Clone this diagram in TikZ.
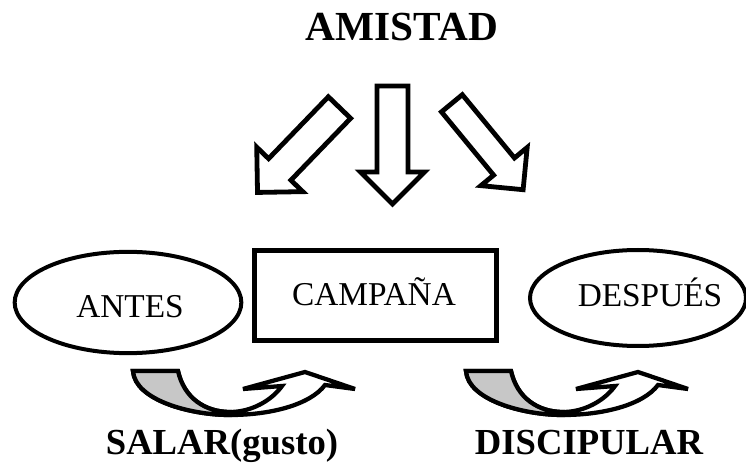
\documentclass[tikz,border=0pt]{standalone}
\usepackage{fontspec}
\setmainfont{Liberation Serif}
\usetikzlibrary{shapes.geometric}

\tikzset{
  oval/.style={draw, ellipse, line width=3pt, inner sep=0pt},
  box/.style={draw, rectangle, line width=3.8pt, inner sep=0pt},
  nodetext/.style={font=\fontsize{25}{29}\selectfont, anchor=base, inner sep=0pt},
  bigtext/.style={font=\bfseries\fontsize{27.5}{32}\selectfont, anchor=base, inner sep=0pt},
  blockarrow/.style={draw, fill=white, line width=3.6pt},
  bendarrow/.style={draw, fill=white, line width=3.2pt},
  bendback/.style={draw, fill=black!22, line width=3.2pt},
}

% hollow arrow: centre x, centre y, angle, half length, half shaft, half head, head length
\newcommand{\hollowarrow}[7]{%
  \begin{scope}[shift={(#1,#2)}, rotate=#3]
    \draw[blockarrow] (-#4,-#5) -- ({#4-#7},-#5) -- ({#4-#7},-#6) -- (#4,0)
      -- ({#4-#7},#6) -- ({#4-#7},#5) -- (-#4,#5) -- cycle;
  \end{scope}}

% curved up arrow, shifted along x
\newcommand{\bentarrow}[1]{%
  \begin{scope}[shift={(#1,0)}]
    \draw[bendarrow] (133,371) -- (178,371) .. controls (184,398) and (205,412) .. (230,412)
      .. controls (252,412) and (272,400) .. (282,386) -- (243,389) -- (305,372) -- (355,389)
      -- (325,385) .. controls (310,405) and (270,415) .. (230,415)
      .. controls (190,415) and (135,400) .. (133,371) -- cycle;
    \filldraw[bendback] (133,371) -- (178,371) .. controls (184,398) and (205,412) .. (230,412)
      -- (230,415) .. controls (190,415) and (135,400) .. (133,371) -- cycle;
  \end{scope}}

\begin{document}
\begin{tikzpicture}[x=0.75pt,y=-0.75pt]
  \useasboundingbox (0,0) rectangle (746,466);

  \node[font=\bfseries\fontsize{31}{36}\selectfont, inner sep=0pt] (amistad) at (402,27.5) {AMISTAD};

  % three hollow arrows
  \hollowarrow{298.5}{150}{-134}{59}{15.5}{32}{32}
  \hollowarrow{392.5}{145}{-90}{59}{15.5}{32}{32}
  \hollowarrow{487.5}{146.5}{-50.5}{56}{13.5}{30}{30}

  \node[oval, minimum width=170pt, minimum height=76pt] (antes) at (128,302.5) {};
  \node[box, minimum width=181.5pt, minimum height=67.5pt] (campana) at (375.5,295.5) {};
  \node[oval, minimum width=162pt, minimum height=72pt] (despues) at (638,298) {};

  \node[nodetext] (antestxt) at (130,318) {ANTES};
  \node[nodetext] (campanatxt) at (374,306) {CAMPAÑA};
  \node[nodetext] (despuestxt) at (650,307) {DESPUÉS};

  \bentarrow{0}
  \bentarrow{333}

  \node[bigtext] (salar) at (222,455) {SALAR(gusto)};
  \node[bigtext] (discipular) at (589,455) {DISCIPULAR};
\end{tikzpicture}
\end{document}
